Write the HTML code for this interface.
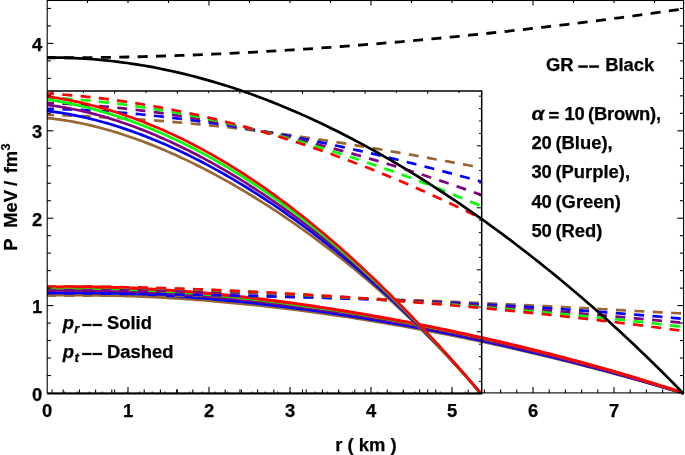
<!DOCTYPE html>
<html><head><meta charset="utf-8"><style>
html,body{margin:0;padding:0;background:#fff;}
body{width:685px;height:455px;overflow:hidden;position:relative;font-family:"Liberation Sans",sans-serif;font-weight:bold;}
svg{position:absolute;left:0;top:0;will-change:transform;}
.t{font-family:"Liberation Sans",sans-serif;font-weight:bold;fill:#000;stroke:#000;stroke-width:0.25px;}
</style></head><body>
<svg width="685" height="455" viewBox="0 0 685 455">
<rect width="685" height="455" fill="#fff"/>
<g stroke-linecap="butt" stroke-linejoin="round">
<path d="M47.00,295.36 L52.35,295.28 L57.70,295.22 L63.05,295.18 L68.40,295.16 L73.75,295.15 L79.10,295.16 L84.45,295.19 L89.80,295.24 L95.15,295.31 L100.50,295.39 L105.85,295.50 L111.19,295.62 L116.54,295.76 L121.89,295.91 L127.24,296.08 L132.59,296.27 L137.94,296.48 L143.29,296.71 L148.64,296.95 L153.99,297.21 L159.34,297.48 L164.69,297.77 L170.04,298.08 L175.39,298.41 L180.74,298.75 L186.09,299.11 L191.44,299.48 L196.79,299.87 L202.14,300.27 L207.49,300.70 L212.84,301.13 L218.19,301.59 L223.54,302.05 L228.89,302.54 L234.24,303.04 L239.58,303.55 L244.93,304.08 L250.28,304.63 L255.63,305.19 L260.98,305.76 L266.33,306.35 L271.68,306.96 L277.03,307.58 L282.38,308.21 L287.73,308.86 L293.08,309.53 L298.43,310.21 L303.78,310.90 L309.13,311.60 L314.48,312.33 L319.83,313.06 L325.18,313.81 L330.53,314.57 L335.88,315.35 L341.23,316.14 L346.58,316.95 L351.93,317.77 L357.28,318.60 L362.63,319.44 L367.97,320.30 L373.32,321.18 L378.67,322.06 L384.02,322.96 L389.37,323.88 L394.72,324.80 L400.07,325.74 L405.42,326.70 L410.77,327.66 L416.12,328.64 L421.47,329.63 L426.82,330.64 L432.17,331.66 L437.52,332.69 L442.87,333.73 L448.22,334.79 L453.57,335.86 L458.92,336.94 L464.27,338.03 L469.62,339.14 L474.97,340.26 L480.32,341.39 L485.67,342.53 L491.02,343.69 L496.36,344.86 L501.71,346.04 L507.06,347.24 L512.41,348.44 L517.76,349.66 L523.11,350.89 L528.46,352.13 L533.81,353.39 L539.16,354.65 L544.51,355.93 L549.86,357.23 L555.21,358.53 L560.56,359.84 L565.91,361.17 L571.26,362.51 L576.61,363.86 L581.96,365.22 L587.31,366.60 L592.66,367.99 L598.01,369.38 L603.36,370.79 L608.71,372.22 L614.06,373.65 L619.41,375.10 L624.75,376.56 L630.10,378.02 L635.45,379.51 L640.80,381.00 L646.15,382.50 L651.50,384.02 L656.85,385.55 L662.20,387.09 L667.55,388.64 L672.90,390.20 L678.25,391.78 L683.60,393.37" stroke="#996633" stroke-width="2.7" fill="none"/>
<path d="M47.00,292.99 L52.35,292.91 L57.70,292.85 L63.05,292.80 L68.40,292.78 L73.75,292.78 L79.10,292.80 L84.45,292.83 L89.80,292.89 L95.15,292.96 L100.50,293.06 L105.85,293.17 L111.19,293.30 L116.54,293.45 L121.89,293.62 L127.24,293.80 L132.59,294.00 L137.94,294.23 L143.29,294.46 L148.64,294.72 L153.99,295.00 L159.34,295.29 L164.69,295.60 L170.04,295.92 L175.39,296.26 L180.74,296.62 L186.09,297.00 L191.44,297.39 L196.79,297.80 L202.14,298.23 L207.49,298.67 L212.84,299.12 L218.19,299.60 L223.54,300.09 L228.89,300.59 L234.24,301.11 L239.58,301.65 L244.93,302.20 L250.28,302.77 L255.63,303.35 L260.98,303.94 L266.33,304.56 L271.68,305.18 L277.03,305.82 L282.38,306.48 L287.73,307.15 L293.08,307.84 L298.43,308.54 L303.78,309.25 L309.13,309.98 L314.48,310.72 L319.83,311.48 L325.18,312.25 L330.53,313.03 L335.88,313.83 L341.23,314.64 L346.58,315.47 L351.93,316.31 L357.28,317.16 L362.63,318.03 L367.97,318.91 L373.32,319.80 L378.67,320.71 L384.02,321.63 L389.37,322.56 L394.72,323.51 L400.07,324.47 L405.42,325.44 L410.77,326.43 L416.12,327.43 L421.47,328.44 L426.82,329.47 L432.17,330.50 L437.52,331.55 L442.87,332.62 L448.22,333.69 L453.57,334.78 L458.92,335.88 L464.27,337.00 L469.62,338.12 L474.97,339.26 L480.32,340.41 L485.67,341.58 L491.02,342.76 L496.36,343.94 L501.71,345.15 L507.06,346.36 L512.41,347.59 L517.76,348.83 L523.11,350.08 L528.46,351.34 L533.81,352.62 L539.16,353.91 L544.51,355.21 L549.86,356.52 L555.21,357.85 L560.56,359.19 L565.91,360.54 L571.26,361.90 L576.61,363.28 L581.96,364.67 L587.31,366.07 L592.66,367.48 L598.01,368.91 L603.36,370.34 L608.71,371.80 L614.06,373.26 L619.41,374.73 L624.75,376.22 L630.10,377.72 L635.45,379.24 L640.80,380.76 L646.15,382.30 L651.50,383.86 L656.85,385.42 L662.20,387.00 L667.55,388.59 L672.90,390.19 L678.25,391.81 L683.60,393.44" stroke="#0000ff" stroke-width="2.7" fill="none"/>
<path d="M47.00,290.60 L52.35,290.52 L57.70,290.47 L63.05,290.43 L68.40,290.42 L73.75,290.42 L79.10,290.45 L84.45,290.49 L89.80,290.56 L95.15,290.64 L100.50,290.74 L105.85,290.86 L111.19,291.00 L116.54,291.16 L121.89,291.34 L127.24,291.53 L132.59,291.75 L137.94,291.98 L143.29,292.23 L148.64,292.49 L153.99,292.78 L159.34,293.08 L164.69,293.40 L170.04,293.74 L175.39,294.09 L180.74,294.46 L186.09,294.84 L191.44,295.25 L196.79,295.67 L202.14,296.10 L207.49,296.56 L212.84,297.02 L218.19,297.51 L223.54,298.01 L228.89,298.52 L234.24,299.06 L239.58,299.60 L244.93,300.16 L250.28,300.74 L255.63,301.34 L260.98,301.94 L266.33,302.57 L271.68,303.20 L277.03,303.86 L282.38,304.53 L287.73,305.21 L293.08,305.90 L298.43,306.62 L303.78,307.34 L309.13,308.08 L314.48,308.84 L319.83,309.61 L325.18,310.39 L330.53,311.19 L335.88,312.00 L341.23,312.82 L346.58,313.66 L351.93,314.51 L357.28,315.38 L362.63,316.26 L367.97,317.15 L373.32,318.06 L378.67,318.98 L384.02,319.92 L389.37,320.86 L394.72,321.82 L400.07,322.80 L405.42,323.79 L410.77,324.79 L416.12,325.80 L421.47,326.83 L426.82,327.87 L432.17,328.93 L437.52,329.99 L442.87,331.07 L448.22,332.17 L453.57,333.27 L458.92,334.39 L464.27,335.52 L469.62,336.67 L474.97,337.83 L480.32,339.00 L485.67,340.19 L491.02,341.38 L496.36,342.59 L501.71,343.82 L507.06,345.06 L512.41,346.31 L517.76,347.57 L523.11,348.84 L528.46,350.13 L533.81,351.44 L539.16,352.75 L544.51,354.08 L549.86,355.42 L555.21,356.78 L560.56,358.14 L565.91,359.52 L571.26,360.92 L576.61,362.33 L581.96,363.75 L587.31,365.18 L592.66,366.63 L598.01,368.09 L603.36,369.57 L608.71,371.05 L614.06,372.56 L619.41,374.07 L624.75,375.60 L630.10,377.14 L635.45,378.70 L640.80,380.27 L646.15,381.86 L651.50,383.45 L656.85,385.07 L662.20,386.69 L667.55,388.33 L672.90,389.99 L678.25,391.66 L683.60,393.34" stroke="#800080" stroke-width="2.7" fill="none"/>
<path d="M47.00,288.30 L52.35,288.22 L57.70,288.15 L63.05,288.11 L68.40,288.09 L73.75,288.10 L79.10,288.12 L84.45,288.17 L89.80,288.24 L95.15,288.33 L100.50,288.44 L105.85,288.57 L111.19,288.72 L116.54,288.90 L121.89,289.09 L127.24,289.30 L132.59,289.53 L137.94,289.78 L143.29,290.04 L148.64,290.33 L153.99,290.64 L159.34,290.96 L164.69,291.30 L170.04,291.66 L175.39,292.03 L180.74,292.42 L186.09,292.83 L191.44,293.26 L196.79,293.70 L202.14,294.16 L207.49,294.64 L212.84,295.13 L218.19,295.64 L223.54,296.16 L228.89,296.70 L234.24,297.25 L239.58,297.82 L244.93,298.41 L250.28,299.01 L255.63,299.62 L260.98,300.25 L266.33,300.90 L271.68,301.55 L277.03,302.23 L282.38,302.91 L287.73,303.61 L293.08,304.33 L298.43,305.06 L303.78,305.80 L309.13,306.55 L314.48,307.32 L319.83,308.11 L325.18,308.90 L330.53,309.71 L335.88,310.54 L341.23,311.37 L346.58,312.22 L351.93,313.08 L357.28,313.96 L362.63,314.85 L367.97,315.75 L373.32,316.67 L378.67,317.59 L384.02,318.53 L389.37,319.49 L394.72,320.45 L400.07,321.43 L405.42,322.42 L410.77,323.43 L416.12,324.45 L421.47,325.48 L426.82,326.52 L432.17,327.58 L437.52,328.65 L442.87,329.73 L448.22,330.82 L453.57,331.93 L458.92,333.05 L464.27,334.19 L469.62,335.33 L474.97,336.50 L480.32,337.67 L485.67,338.86 L491.02,340.06 L496.36,341.27 L501.71,342.50 L507.06,343.74 L512.41,345.00 L517.76,346.26 L523.11,347.55 L528.46,348.84 L533.81,350.15 L539.16,351.48 L544.51,352.82 L549.86,354.17 L555.21,355.54 L560.56,356.93 L565.91,358.32 L571.26,359.74 L576.61,361.17 L581.96,362.61 L587.31,364.07 L592.66,365.54 L598.01,367.03 L603.36,368.54 L608.71,370.06 L614.06,371.60 L619.41,373.16 L624.75,374.73 L630.10,376.32 L635.45,377.93 L640.80,379.55 L646.15,381.19 L651.50,382.85 L656.85,384.53 L662.20,386.22 L667.55,387.94 L672.90,389.67 L678.25,391.42 L683.60,393.19" stroke="#00ff00" stroke-width="2.7" fill="none"/>
<path d="M47.00,287.11 L52.35,287.01 L57.70,286.93 L63.05,286.87 L68.40,286.84 L73.75,286.82 L79.10,286.84 L84.45,286.87 L89.80,286.93 L95.15,287.01 L100.50,287.11 L105.85,287.24 L111.19,287.38 L116.54,287.55 L121.89,287.74 L127.24,287.95 L132.59,288.17 L137.94,288.42 L143.29,288.69 L148.64,288.98 L153.99,289.28 L159.34,289.61 L164.69,289.95 L170.04,290.32 L175.39,290.70 L180.74,291.10 L186.09,291.51 L191.44,291.95 L196.79,292.40 L202.14,292.87 L207.49,293.35 L212.84,293.86 L218.19,294.38 L223.54,294.91 L228.89,295.46 L234.24,296.03 L239.58,296.62 L244.93,297.21 L250.28,297.83 L255.63,298.46 L260.98,299.10 L266.33,299.77 L271.68,300.44 L277.03,301.13 L282.38,301.84 L287.73,302.55 L293.08,303.29 L298.43,304.04 L303.78,304.80 L309.13,305.57 L314.48,306.36 L319.83,307.17 L325.18,307.98 L330.53,308.81 L335.88,309.66 L341.23,310.52 L346.58,311.39 L351.93,312.27 L357.28,313.17 L362.63,314.08 L367.97,315.00 L373.32,315.94 L378.67,316.89 L384.02,317.85 L389.37,318.83 L394.72,319.81 L400.07,320.81 L405.42,321.83 L410.77,322.85 L416.12,323.89 L421.47,324.94 L426.82,326.01 L432.17,327.09 L437.52,328.18 L442.87,329.28 L448.22,330.39 L453.57,331.52 L458.92,332.66 L464.27,333.82 L469.62,334.98 L474.97,336.16 L480.32,337.35 L485.67,338.56 L491.02,339.78 L496.36,341.01 L501.71,342.25 L507.06,343.51 L512.41,344.78 L517.76,346.06 L523.11,347.36 L528.46,348.67 L533.81,349.99 L539.16,351.33 L544.51,352.68 L549.86,354.04 L555.21,355.42 L560.56,356.82 L565.91,358.22 L571.26,359.64 L576.61,361.08 L581.96,362.53 L587.31,363.99 L592.66,365.47 L598.01,366.97 L603.36,368.48 L608.71,370.00 L614.06,371.54 L619.41,373.10 L624.75,374.67 L630.10,376.26 L635.45,377.86 L640.80,379.48 L646.15,381.11 L651.50,382.77 L656.85,384.44 L662.20,386.12 L667.55,387.83 L672.90,389.55 L678.25,391.29 L683.60,393.04" stroke="#ff0000" stroke-width="3.1" fill="none"/>
<path d="M47.00,295.50 L52.35,295.52 L57.70,295.54 L63.05,295.56 L68.40,295.58 L73.75,295.59 L79.10,295.60 L84.45,295.62 L89.80,295.63 L95.15,295.64 L100.50,295.65 L105.85,295.66 L111.19,295.67 L116.54,295.68 L121.89,295.69 L127.24,295.71 L132.59,295.72 L137.94,295.73 L143.29,295.75 L148.64,295.76 L153.99,295.78 L159.34,295.80 L164.69,295.82 L170.04,295.84 L175.39,295.86 L180.74,295.89 L186.09,295.91 L191.44,295.94 L196.79,295.98 L202.14,296.01 L207.49,296.05 L212.84,296.09 L218.19,296.13 L223.54,296.18 L228.89,296.23 L234.24,296.28 L239.58,296.34 L244.93,296.40 L250.28,296.46 L255.63,296.53 L260.98,296.60 L266.33,296.67 L271.68,296.75 L277.03,296.83 L282.38,296.91 L287.73,297.00 L293.08,297.10 L298.43,297.19 L303.78,297.29 L309.13,297.40 L314.48,297.51 L319.83,297.62 L325.18,297.74 L330.53,297.86 L335.88,297.99 L341.23,298.12 L346.58,298.26 L351.93,298.40 L357.28,298.54 L362.63,298.69 L367.97,298.84 L373.32,299.00 L378.67,299.16 L384.02,299.32 L389.37,299.49 L394.72,299.67 L400.07,299.85 L405.42,300.03 L410.77,300.22 L416.12,300.41 L421.47,300.61 L426.82,300.81 L432.17,301.01 L437.52,301.22 L442.87,301.43 L448.22,301.65 L453.57,301.87 L458.92,302.09 L464.27,302.32 L469.62,302.55 L474.97,302.78 L480.32,303.02 L485.67,303.26 L491.02,303.51 L496.36,303.76 L501.71,304.01 L507.06,304.26 L512.41,304.52 L517.76,304.78 L523.11,305.04 L528.46,305.31 L533.81,305.58 L539.16,305.85 L544.51,306.12 L549.86,306.40 L555.21,306.67 L560.56,306.95 L565.91,307.24 L571.26,307.52 L576.61,307.80 L581.96,308.09 L587.31,308.37 L592.66,308.66 L598.01,308.95 L603.36,309.24 L608.71,309.53 L614.06,309.82 L619.41,310.11 L624.75,310.40 L630.10,310.69 L635.45,310.98 L640.80,311.27 L646.15,311.56 L651.50,311.85 L656.85,312.13 L662.20,312.42 L667.55,312.70 L672.90,312.98 L678.25,313.26 L683.60,313.54" stroke="#996633" stroke-width="2.7" fill="none" stroke-dasharray="10 8.4" stroke-dashoffset="1.16"/>
<path d="M47.00,293.17 L52.35,293.20 L57.70,293.24 L63.05,293.28 L68.40,293.32 L73.75,293.37 L79.10,293.41 L84.45,293.46 L89.80,293.50 L95.15,293.55 L100.50,293.60 L105.85,293.66 L111.19,293.71 L116.54,293.77 L121.89,293.83 L127.24,293.89 L132.59,293.95 L137.94,294.01 L143.29,294.08 L148.64,294.15 L153.99,294.22 L159.34,294.29 L164.69,294.36 L170.04,294.44 L175.39,294.52 L180.74,294.60 L186.09,294.69 L191.44,294.77 L196.79,294.86 L202.14,294.95 L207.49,295.05 L212.84,295.15 L218.19,295.25 L223.54,295.35 L228.89,295.45 L234.24,295.56 L239.58,295.67 L244.93,295.79 L250.28,295.90 L255.63,296.02 L260.98,296.15 L266.33,296.27 L271.68,296.40 L277.03,296.53 L282.38,296.67 L287.73,296.81 L293.08,296.95 L298.43,297.10 L303.78,297.24 L309.13,297.40 L314.48,297.55 L319.83,297.71 L325.18,297.87 L330.53,298.04 L335.88,298.21 L341.23,298.38 L346.58,298.56 L351.93,298.74 L357.28,298.93 L362.63,299.11 L367.97,299.31 L373.32,299.50 L378.67,299.70 L384.02,299.91 L389.37,300.12 L394.72,300.33 L400.07,300.54 L405.42,300.76 L410.77,300.99 L416.12,301.22 L421.47,301.45 L426.82,301.69 L432.17,301.93 L437.52,302.18 L442.87,302.43 L448.22,302.68 L453.57,302.94 L458.92,303.20 L464.27,303.47 L469.62,303.75 L474.97,304.02 L480.32,304.31 L485.67,304.59 L491.02,304.88 L496.36,305.18 L501.71,305.48 L507.06,305.79 L512.41,306.10 L517.76,306.41 L523.11,306.74 L528.46,307.06 L533.81,307.39 L539.16,307.73 L544.51,308.07 L549.86,308.42 L555.21,308.77 L560.56,309.12 L565.91,309.49 L571.26,309.85 L576.61,310.22 L581.96,310.60 L587.31,310.99 L592.66,311.37 L598.01,311.77 L603.36,312.17 L608.71,312.57 L614.06,312.98 L619.41,313.40 L624.75,313.82 L630.10,314.25 L635.45,314.68 L640.80,315.12 L646.15,315.56 L651.50,316.01 L656.85,316.47 L662.20,316.93 L667.55,317.40 L672.90,317.87 L678.25,318.35 L683.60,318.84" stroke="#0000ff" stroke-width="2.7" fill="none" stroke-dasharray="10 8.4" stroke-dashoffset="1.16"/>
<path d="M47.00,290.70 L52.35,290.62 L57.70,290.54 L63.05,290.47 L68.40,290.42 L73.75,290.37 L79.10,290.33 L84.45,290.30 L89.80,290.28 L95.15,290.27 L100.50,290.26 L105.85,290.27 L111.19,290.28 L116.54,290.31 L121.89,290.34 L127.24,290.37 L132.59,290.42 L137.94,290.47 L143.29,290.53 L148.64,290.60 L153.99,290.68 L159.34,290.76 L164.69,290.85 L170.04,290.95 L175.39,291.05 L180.74,291.16 L186.09,291.28 L191.44,291.40 L196.79,291.54 L202.14,291.67 L207.49,291.82 L212.84,291.96 L218.19,292.12 L223.54,292.28 L228.89,292.45 L234.24,292.62 L239.58,292.80 L244.93,292.98 L250.28,293.17 L255.63,293.37 L260.98,293.57 L266.33,293.78 L271.68,293.99 L277.03,294.20 L282.38,294.42 L287.73,294.65 L293.08,294.88 L298.43,295.12 L303.78,295.36 L309.13,295.60 L314.48,295.85 L319.83,296.11 L325.18,296.37 L330.53,296.63 L335.88,296.90 L341.23,297.17 L346.58,297.45 L351.93,297.73 L357.28,298.02 L362.63,298.31 L367.97,298.60 L373.32,298.90 L378.67,299.20 L384.02,299.51 L389.37,299.82 L394.72,300.13 L400.07,300.45 L405.42,300.77 L410.77,301.10 L416.12,301.43 L421.47,301.76 L426.82,302.10 L432.17,302.44 L437.52,302.79 L442.87,303.14 L448.22,303.49 L453.57,303.85 L458.92,304.21 L464.27,304.57 L469.62,304.94 L474.97,305.31 L480.32,305.69 L485.67,306.07 L491.02,306.45 L496.36,306.84 L501.71,307.23 L507.06,307.62 L512.41,308.02 L517.76,308.42 L523.11,308.83 L528.46,309.24 L533.81,309.65 L539.16,310.07 L544.51,310.49 L549.86,310.92 L555.21,311.35 L560.56,311.78 L565.91,312.22 L571.26,312.67 L576.61,313.11 L581.96,313.56 L587.31,314.02 L592.66,314.48 L598.01,314.94 L603.36,315.41 L608.71,315.88 L614.06,316.36 L619.41,316.84 L624.75,317.32 L630.10,317.81 L635.45,318.31 L640.80,318.81 L646.15,319.31 L651.50,319.82 L656.85,320.34 L662.20,320.86 L667.55,321.38 L672.90,321.91 L678.25,322.45 L683.60,322.99" stroke="#800080" stroke-width="2.7" fill="none" stroke-dasharray="10 8.4" stroke-dashoffset="1.16"/>
<path d="M47.00,286.92 L52.35,286.88 L57.70,286.84 L63.05,286.82 L68.40,286.80 L73.75,286.81 L79.10,286.82 L84.45,286.84 L89.80,286.88 L95.15,286.92 L100.50,286.98 L105.85,287.05 L111.19,287.12 L116.54,287.21 L121.89,287.31 L127.24,287.41 L132.59,287.53 L137.94,287.65 L143.29,287.79 L148.64,287.93 L153.99,288.08 L159.34,288.23 L164.69,288.40 L170.04,288.57 L175.39,288.75 L180.74,288.94 L186.09,289.13 L191.44,289.34 L196.79,289.54 L202.14,289.76 L207.49,289.98 L212.84,290.21 L218.19,290.44 L223.54,290.68 L228.89,290.92 L234.24,291.17 L239.58,291.43 L244.93,291.69 L250.28,291.95 L255.63,292.22 L260.98,292.50 L266.33,292.78 L271.68,293.06 L277.03,293.35 L282.38,293.64 L287.73,293.94 L293.08,294.24 L298.43,294.55 L303.78,294.86 L309.13,295.17 L314.48,295.49 L319.83,295.81 L325.18,296.13 L330.53,296.46 L335.88,296.79 L341.23,297.13 L346.58,297.47 L351.93,297.81 L357.28,298.16 L362.63,298.51 L367.97,298.86 L373.32,299.21 L378.67,299.57 L384.02,299.93 L389.37,300.30 L394.72,300.67 L400.07,301.04 L405.42,301.41 L410.77,301.79 L416.12,302.17 L421.47,302.56 L426.82,302.95 L432.17,303.34 L437.52,303.73 L442.87,304.13 L448.22,304.53 L453.57,304.94 L458.92,305.35 L464.27,305.76 L469.62,306.17 L474.97,306.59 L480.32,307.01 L485.67,307.44 L491.02,307.87 L496.36,308.31 L501.71,308.74 L507.06,309.19 L512.41,309.63 L517.76,310.08 L523.11,310.54 L528.46,311.00 L533.81,311.47 L539.16,311.93 L544.51,312.41 L549.86,312.89 L555.21,313.37 L560.56,313.86 L565.91,314.36 L571.26,314.86 L576.61,315.37 L581.96,315.88 L587.31,316.40 L592.66,316.92 L598.01,317.45 L603.36,317.99 L608.71,318.54 L614.06,319.09 L619.41,319.65 L624.75,320.21 L630.10,320.79 L635.45,321.37 L640.80,321.96 L646.15,322.55 L651.50,323.16 L656.85,323.77 L662.20,324.40 L667.55,325.03 L672.90,325.67 L678.25,326.32 L683.60,326.98" stroke="#00ff00" stroke-width="2.7" fill="none" stroke-dasharray="10 8.4" stroke-dashoffset="1.16"/>
<path d="M47.00,286.51 L52.35,286.50 L57.70,286.50 L63.05,286.50 L68.40,286.52 L73.75,286.54 L79.10,286.58 L84.45,286.62 L89.80,286.67 L95.15,286.72 L100.50,286.79 L105.85,286.86 L111.19,286.95 L116.54,287.03 L121.89,287.13 L127.24,287.24 L132.59,287.35 L137.94,287.47 L143.29,287.59 L148.64,287.73 L153.99,287.87 L159.34,288.02 L164.69,288.17 L170.04,288.34 L175.39,288.50 L180.74,288.68 L186.09,288.86 L191.44,289.05 L196.79,289.25 L202.14,289.45 L207.49,289.66 L212.84,289.88 L218.19,290.10 L223.54,290.32 L228.89,290.56 L234.24,290.80 L239.58,291.05 L244.93,291.30 L250.28,291.56 L255.63,291.82 L260.98,292.09 L266.33,292.37 L271.68,292.65 L277.03,292.94 L282.38,293.23 L287.73,293.53 L293.08,293.84 L298.43,294.15 L303.78,294.46 L309.13,294.78 L314.48,295.11 L319.83,295.44 L325.18,295.78 L330.53,296.13 L335.88,296.48 L341.23,296.83 L346.58,297.19 L351.93,297.56 L357.28,297.93 L362.63,298.30 L367.97,298.68 L373.32,299.07 L378.67,299.46 L384.02,299.86 L389.37,300.26 L394.72,300.67 L400.07,301.08 L405.42,301.50 L410.77,301.92 L416.12,302.35 L421.47,302.79 L426.82,303.23 L432.17,303.67 L437.52,304.12 L442.87,304.58 L448.22,305.04 L453.57,305.50 L458.92,305.97 L464.27,306.45 L469.62,306.93 L474.97,307.42 L480.32,307.91 L485.67,308.41 L491.02,308.91 L496.36,309.42 L501.71,309.94 L507.06,310.46 L512.41,310.98 L517.76,311.51 L523.11,312.05 L528.46,312.59 L533.81,313.14 L539.16,313.69 L544.51,314.25 L549.86,314.82 L555.21,315.39 L560.56,315.97 L565.91,316.55 L571.26,317.14 L576.61,317.73 L581.96,318.34 L587.31,318.94 L592.66,319.56 L598.01,320.18 L603.36,320.80 L608.71,321.43 L614.06,322.07 L619.41,322.72 L624.75,323.37 L630.10,324.03 L635.45,324.69 L640.80,325.37 L646.15,326.05 L651.50,326.73 L656.85,327.42 L662.20,328.12 L667.55,328.83 L672.90,329.54 L678.25,330.27 L683.60,330.99" stroke="#ff0000" stroke-width="2.7" fill="none" stroke-dasharray="10 8.4" stroke-dashoffset="1.16"/>
<path d="M47.00,114.87 L50.65,114.98 L54.31,115.10 L57.96,115.22 L61.61,115.35 L65.26,115.48 L68.92,115.62 L72.57,115.76 L76.22,115.91 L79.88,116.06 L83.53,116.22 L87.18,116.38 L90.84,116.55 L94.49,116.72 L98.14,116.90 L101.79,117.09 L105.45,117.28 L109.10,117.48 L112.75,117.68 L116.41,117.89 L120.06,118.11 L123.71,118.33 L127.36,118.56 L131.02,118.79 L134.67,119.03 L138.32,119.27 L141.98,119.53 L145.63,119.79 L149.28,120.05 L152.94,120.32 L156.59,120.60 L160.24,120.88 L163.89,121.17 L167.55,121.47 L171.20,121.77 L174.85,122.08 L178.51,122.40 L182.16,122.72 L185.81,123.05 L189.46,123.39 L193.12,123.73 L196.77,124.08 L200.42,124.44 L204.08,124.80 L207.73,125.17 L211.38,125.54 L215.04,125.93 L218.69,126.32 L222.34,126.71 L225.99,127.11 L229.65,127.52 L233.30,127.93 L236.95,128.36 L240.61,128.78 L244.26,129.22 L247.91,129.66 L251.56,130.10 L255.22,130.56 L258.87,131.01 L262.52,131.48 L266.18,131.95 L269.83,132.43 L273.48,132.91 L277.14,133.40 L280.79,133.90 L284.44,134.40 L288.09,134.90 L291.75,135.42 L295.40,135.93 L299.05,136.46 L302.71,136.99 L306.36,137.52 L310.01,138.06 L313.66,138.61 L317.32,139.16 L320.97,139.72 L324.62,140.28 L328.28,140.85 L331.93,141.42 L335.58,141.99 L339.24,142.58 L342.89,143.16 L346.54,143.75 L350.19,144.35 L353.85,144.95 L357.50,145.55 L361.15,146.16 L364.81,146.77 L368.46,147.39 L372.11,148.01 L375.76,148.63 L379.42,149.26 L383.07,149.89 L386.72,150.52 L390.38,151.16 L394.03,151.80 L397.68,152.44 L401.34,153.09 L404.99,153.74 L408.64,154.39 L412.29,155.04 L415.95,155.70 L419.60,156.36 L423.25,157.02 L426.91,157.68 L430.56,158.34 L434.21,159.01 L437.86,159.67 L441.52,160.34 L445.17,161.01 L448.82,161.68 L452.48,162.35 L456.13,163.02 L459.78,163.70 L463.44,164.37 L467.09,165.04 L470.74,165.71 L474.39,166.38 L478.05,167.05 L481.70,167.72" stroke="#996633" stroke-width="2.7" fill="none" stroke-dasharray="10 8.37" stroke-dashoffset="3.04"/>
<path d="M47.00,108.78 L50.65,108.86 L54.31,108.95 L57.96,109.06 L61.61,109.17 L65.26,109.30 L68.92,109.44 L72.57,109.59 L76.22,109.75 L79.88,109.92 L83.53,110.10 L87.18,110.30 L90.84,110.51 L94.49,110.72 L98.14,110.95 L101.79,111.19 L105.45,111.44 L109.10,111.70 L112.75,111.97 L116.41,112.25 L120.06,112.54 L123.71,112.84 L127.36,113.15 L131.02,113.48 L134.67,113.81 L138.32,114.15 L141.98,114.50 L145.63,114.86 L149.28,115.24 L152.94,115.62 L156.59,116.01 L160.24,116.41 L163.89,116.82 L167.55,117.24 L171.20,117.67 L174.85,118.10 L178.51,118.55 L182.16,119.01 L185.81,119.47 L189.46,119.94 L193.12,120.43 L196.77,120.92 L200.42,121.42 L204.08,121.93 L207.73,122.44 L211.38,122.97 L215.04,123.50 L218.69,124.05 L222.34,124.60 L225.99,125.16 L229.65,125.72 L233.30,126.30 L236.95,126.88 L240.61,127.48 L244.26,128.08 L247.91,128.68 L251.56,129.30 L255.22,129.92 L258.87,130.55 L262.52,131.19 L266.18,131.84 L269.83,132.49 L273.48,133.15 L277.14,133.82 L280.79,134.50 L284.44,135.18 L288.09,135.87 L291.75,136.57 L295.40,137.28 L299.05,137.99 L302.71,138.71 L306.36,139.43 L310.01,140.17 L313.66,140.91 L317.32,141.66 L320.97,142.41 L324.62,143.17 L328.28,143.94 L331.93,144.71 L335.58,145.49 L339.24,146.28 L342.89,147.08 L346.54,147.88 L350.19,148.69 L353.85,149.50 L357.50,150.32 L361.15,151.15 L364.81,151.98 L368.46,152.82 L372.11,153.67 L375.76,154.52 L379.42,155.38 L383.07,156.24 L386.72,157.11 L390.38,157.99 L394.03,158.87 L397.68,159.76 L401.34,160.66 L404.99,161.56 L408.64,162.46 L412.29,163.38 L415.95,164.29 L419.60,165.22 L423.25,166.15 L426.91,167.09 L430.56,168.03 L434.21,168.98 L437.86,169.93 L441.52,170.89 L445.17,171.85 L448.82,172.83 L452.48,173.80 L456.13,174.78 L459.78,175.77 L463.44,176.76 L467.09,177.76 L470.74,178.77 L474.39,179.78 L478.05,180.79 L481.70,181.82" stroke="#0000ff" stroke-width="2.7" fill="none" stroke-dasharray="10 8.37" stroke-dashoffset="3.04"/>
<path d="M47.00,102.93 L50.65,103.06 L54.31,103.21 L57.96,103.37 L61.61,103.54 L65.26,103.73 L68.92,103.93 L72.57,104.14 L76.22,104.37 L79.88,104.60 L83.53,104.86 L87.18,105.12 L90.84,105.40 L94.49,105.69 L98.14,105.99 L101.79,106.30 L105.45,106.63 L109.10,106.97 L112.75,107.32 L116.41,107.69 L120.06,108.06 L123.71,108.45 L127.36,108.85 L131.02,109.26 L134.67,109.68 L138.32,110.12 L141.98,110.56 L145.63,111.02 L149.28,111.49 L152.94,111.97 L156.59,112.46 L160.24,112.96 L163.89,113.48 L167.55,114.00 L171.20,114.54 L174.85,115.09 L178.51,115.64 L182.16,116.21 L185.81,116.79 L189.46,117.38 L193.12,117.98 L196.77,118.59 L200.42,119.22 L204.08,119.85 L207.73,120.49 L211.38,121.14 L215.04,121.81 L218.69,122.48 L222.34,123.16 L225.99,123.85 L229.65,124.56 L233.30,125.27 L236.95,125.99 L240.61,126.73 L244.26,127.47 L247.91,128.22 L251.56,128.99 L255.22,129.76 L258.87,130.54 L262.52,131.33 L266.18,132.13 L269.83,132.94 L273.48,133.76 L277.14,134.59 L280.79,135.43 L284.44,136.28 L288.09,137.13 L291.75,138.00 L295.40,138.88 L299.05,139.76 L302.71,140.65 L306.36,141.56 L310.01,142.47 L313.66,143.39 L317.32,144.32 L320.97,145.26 L324.62,146.21 L328.28,147.16 L331.93,148.13 L335.58,149.10 L339.24,150.09 L342.89,151.08 L346.54,152.08 L350.19,153.09 L353.85,154.11 L357.50,155.13 L361.15,156.17 L364.81,157.21 L368.46,158.27 L372.11,159.33 L375.76,160.40 L379.42,161.47 L383.07,162.56 L386.72,163.66 L390.38,164.76 L394.03,165.87 L397.68,166.99 L401.34,168.12 L404.99,169.26 L408.64,170.41 L412.29,171.56 L415.95,172.73 L419.60,173.90 L423.25,175.08 L426.91,176.27 L430.56,177.46 L434.21,178.67 L437.86,179.88 L441.52,181.10 L445.17,182.33 L448.82,183.57 L452.48,184.82 L456.13,186.08 L459.78,187.34 L463.44,188.61 L467.09,189.89 L470.74,191.18 L474.39,192.48 L478.05,193.78 L481.70,195.10" stroke="#800080" stroke-width="2.7" fill="none" stroke-dasharray="10 8.37" stroke-dashoffset="3.04"/>
<path d="M47.00,97.54 L50.65,97.73 L54.31,97.93 L57.96,98.14 L61.61,98.38 L65.26,98.62 L68.92,98.88 L72.57,99.16 L76.22,99.45 L79.88,99.76 L83.53,100.08 L87.18,100.41 L90.84,100.76 L94.49,101.13 L98.14,101.50 L101.79,101.90 L105.45,102.30 L109.10,102.72 L112.75,103.15 L116.41,103.60 L120.06,104.06 L123.71,104.53 L127.36,105.02 L131.02,105.52 L134.67,106.03 L138.32,106.55 L141.98,107.09 L145.63,107.64 L149.28,108.20 L152.94,108.78 L156.59,109.37 L160.24,109.97 L163.89,110.58 L167.55,111.21 L171.20,111.85 L174.85,112.50 L178.51,113.16 L182.16,113.83 L185.81,114.52 L189.46,115.22 L193.12,115.93 L196.77,116.65 L200.42,117.38 L204.08,118.12 L207.73,118.88 L211.38,119.65 L215.04,120.43 L218.69,121.22 L222.34,122.02 L225.99,122.83 L229.65,123.65 L233.30,124.49 L236.95,125.33 L240.61,126.19 L244.26,127.06 L247.91,127.94 L251.56,128.83 L255.22,129.73 L258.87,130.64 L262.52,131.56 L266.18,132.50 L269.83,133.44 L273.48,134.40 L277.14,135.36 L280.79,136.34 L284.44,137.32 L288.09,138.32 L291.75,139.33 L295.40,140.35 L299.05,141.38 L302.71,142.42 L306.36,143.47 L310.01,144.53 L313.66,145.60 L317.32,146.68 L320.97,147.78 L324.62,148.88 L328.28,149.99 L331.93,151.12 L335.58,152.25 L339.24,153.39 L342.89,154.55 L346.54,155.72 L350.19,156.89 L353.85,158.08 L357.50,159.28 L361.15,160.48 L364.81,161.70 L368.46,162.93 L372.11,164.17 L375.76,165.42 L379.42,166.68 L383.07,167.95 L386.72,169.23 L390.38,170.53 L394.03,171.83 L397.68,173.14 L401.34,174.47 L404.99,175.80 L408.64,177.15 L412.29,178.51 L415.95,179.88 L419.60,181.26 L423.25,182.65 L426.91,184.05 L430.56,185.46 L434.21,186.88 L437.86,188.32 L441.52,189.76 L445.17,191.22 L448.82,192.69 L452.48,194.17 L456.13,195.66 L459.78,197.16 L463.44,198.67 L467.09,200.20 L470.74,201.73 L474.39,203.28 L478.05,204.84 L481.70,206.42" stroke="#00ff00" stroke-width="2.7" fill="none" stroke-dasharray="10 8.37" stroke-dashoffset="3.04"/>
<path d="M47.00,93.50 L50.65,93.72 L54.31,93.96 L57.96,94.21 L61.61,94.48 L65.26,94.77 L68.92,95.07 L72.57,95.38 L76.22,95.71 L79.88,96.05 L83.53,96.41 L87.18,96.79 L90.84,97.18 L94.49,97.59 L98.14,98.01 L101.79,98.44 L105.45,98.89 L109.10,99.36 L112.75,99.84 L116.41,100.33 L120.06,100.84 L123.71,101.37 L127.36,101.91 L131.02,102.46 L134.67,103.03 L138.32,103.61 L141.98,104.21 L145.63,104.82 L149.28,105.45 L152.94,106.09 L156.59,106.74 L160.24,107.41 L163.89,108.09 L167.55,108.79 L171.20,109.50 L174.85,110.23 L178.51,110.97 L182.16,111.72 L185.81,112.49 L189.46,113.27 L193.12,114.07 L196.77,114.88 L200.42,115.70 L204.08,116.54 L207.73,117.39 L211.38,118.26 L215.04,119.14 L218.69,120.03 L222.34,120.94 L225.99,121.86 L229.65,122.79 L233.30,123.74 L236.95,124.70 L240.61,125.67 L244.26,126.66 L247.91,127.66 L251.56,128.68 L255.22,129.70 L258.87,130.75 L262.52,131.80 L266.18,132.87 L269.83,133.95 L273.48,135.05 L277.14,136.15 L280.79,137.27 L284.44,138.41 L288.09,139.56 L291.75,140.72 L295.40,141.89 L299.05,143.08 L302.71,144.28 L306.36,145.49 L310.01,146.72 L313.66,147.96 L317.32,149.21 L320.97,150.47 L324.62,151.75 L328.28,153.04 L331.93,154.35 L335.58,155.66 L339.24,156.99 L342.89,158.33 L346.54,159.69 L350.19,161.06 L353.85,162.44 L357.50,163.83 L361.15,165.24 L364.81,166.66 L368.46,168.09 L372.11,169.53 L375.76,170.99 L379.42,172.46 L383.07,173.94 L386.72,175.44 L390.38,176.94 L394.03,178.47 L397.68,180.00 L401.34,181.54 L404.99,183.10 L408.64,184.67 L412.29,186.26 L415.95,187.85 L419.60,189.46 L423.25,191.08 L426.91,192.72 L430.56,194.36 L434.21,196.02 L437.86,197.69 L441.52,199.37 L445.17,201.07 L448.82,202.78 L452.48,204.50 L456.13,206.23 L459.78,207.98 L463.44,209.74 L467.09,211.51 L470.74,213.29 L474.39,215.09 L478.05,216.90 L481.70,218.72" stroke="#ff0000" stroke-width="2.7" fill="none" stroke-dasharray="10 8.37" stroke-dashoffset="3.04"/>
<path d="M47.00,118.04 L50.64,118.42 L54.29,118.85 L57.93,119.32 L61.58,119.83 L65.22,120.39 L68.87,120.99 L72.51,121.63 L76.16,122.31 L79.80,123.03 L83.45,123.80 L87.09,124.60 L90.73,125.44 L94.38,126.32 L98.02,127.24 L101.67,128.20 L105.31,129.19 L108.96,130.22 L112.60,131.29 L116.25,132.39 L119.89,133.53 L123.54,134.71 L127.18,135.91 L130.82,137.16 L134.47,138.43 L138.11,139.74 L141.76,141.08 L145.40,142.46 L149.05,143.87 L152.69,145.31 L156.34,146.78 L159.98,148.28 L163.63,149.81 L167.27,151.38 L170.91,152.97 L174.56,154.59 L178.20,156.25 L181.85,157.93 L185.49,159.65 L189.14,161.39 L192.78,163.16 L196.43,164.96 L200.07,166.79 L203.72,168.64 L207.36,170.53 L211.00,172.44 L214.65,174.38 L218.29,176.35 L221.94,178.34 L225.58,180.36 L229.23,182.41 L232.87,184.49 L236.52,186.59 L240.16,188.72 L243.81,190.88 L247.45,193.06 L251.09,195.27 L254.74,197.51 L258.38,199.78 L262.03,202.07 L265.67,204.38 L269.32,206.72 L272.96,209.09 L276.61,211.49 L280.25,213.91 L283.89,216.36 L287.54,218.84 L291.18,221.34 L294.83,223.87 L298.47,226.43 L302.12,229.01 L305.76,231.62 L309.41,234.26 L313.05,236.92 L316.70,239.61 L320.34,242.33 L323.98,245.08 L327.63,247.85 L331.27,250.66 L334.92,253.49 L338.56,256.35 L342.21,259.23 L345.85,262.15 L349.50,265.10 L353.14,268.07 L356.79,271.08 L360.43,274.11 L364.07,277.17 L367.72,280.27 L371.36,283.39 L375.01,286.55 L378.65,289.74 L382.30,292.96 L385.94,296.21 L389.59,299.49 L393.23,302.80 L396.88,306.15 L400.52,309.53 L404.16,312.95 L407.81,316.40 L411.45,319.88 L415.10,323.40 L418.74,326.95 L422.39,330.54 L426.03,334.17 L429.68,337.83 L433.32,341.53 L436.97,345.26 L440.61,349.04 L444.25,352.85 L447.90,356.70 L451.54,360.60 L455.19,364.53 L458.83,368.50 L462.48,372.51 L466.12,376.57 L469.77,380.67 L473.41,384.81 L477.06,388.99 L480.70,393.22" stroke="#996633" stroke-width="2.7" fill="none"/>
<path d="M47.00,110.89 L50.64,111.33 L54.29,111.81 L57.93,112.33 L61.58,112.90 L65.22,113.50 L68.87,114.15 L72.51,114.83 L76.16,115.56 L79.80,116.32 L83.45,117.12 L87.09,117.96 L90.73,118.84 L94.38,119.75 L98.02,120.70 L101.67,121.69 L105.31,122.71 L108.96,123.77 L112.60,124.87 L116.25,126.00 L119.89,127.16 L123.54,128.36 L127.18,129.60 L130.82,130.86 L134.47,132.17 L138.11,133.50 L141.76,134.87 L145.40,136.27 L149.05,137.70 L152.69,139.17 L156.34,140.67 L159.98,142.20 L163.63,143.76 L167.27,145.35 L170.91,146.98 L174.56,148.63 L178.20,150.32 L181.85,152.04 L185.49,153.78 L189.14,155.56 L192.78,157.37 L196.43,159.21 L200.07,161.07 L203.72,162.97 L207.36,164.90 L211.00,166.85 L214.65,168.84 L218.29,170.85 L221.94,172.89 L225.58,174.96 L229.23,177.06 L232.87,179.19 L236.52,181.35 L240.16,183.54 L243.81,185.75 L247.45,187.99 L251.09,190.26 L254.74,192.56 L258.38,194.89 L262.03,197.25 L265.67,199.63 L269.32,202.04 L272.96,204.48 L276.61,206.95 L280.25,209.45 L283.89,211.97 L287.54,214.52 L291.18,217.10 L294.83,219.71 L298.47,222.35 L302.12,225.01 L305.76,227.71 L309.41,230.43 L313.05,233.18 L316.70,235.96 L320.34,238.77 L323.98,241.60 L327.63,244.47 L331.27,247.36 L334.92,250.29 L338.56,253.24 L342.21,256.22 L345.85,259.23 L349.50,262.27 L353.14,265.34 L356.79,268.44 L360.43,271.57 L364.07,274.73 L367.72,277.93 L371.36,281.15 L375.01,284.40 L378.65,287.68 L382.30,291.00 L385.94,294.34 L389.59,297.72 L393.23,301.13 L396.88,304.57 L400.52,308.05 L404.16,311.55 L407.81,315.09 L411.45,318.67 L415.10,322.27 L418.74,325.91 L422.39,329.59 L426.03,333.30 L429.68,337.04 L433.32,340.82 L436.97,344.63 L440.61,348.48 L444.25,352.36 L447.90,356.28 L451.54,360.24 L455.19,364.23 L458.83,368.27 L462.48,372.34 L466.12,376.44 L469.77,380.59 L473.41,384.77 L477.06,389.00 L480.70,393.26" stroke="#0000ff" stroke-width="2.7" fill="none"/>
<path d="M47.00,104.90 L50.64,105.36 L54.29,105.86 L57.93,106.41 L61.58,106.99 L65.22,107.62 L68.87,108.29 L72.51,109.00 L76.16,109.75 L79.80,110.53 L83.45,111.36 L87.09,112.23 L90.73,113.13 L94.38,114.08 L98.02,115.06 L101.67,116.07 L105.31,117.13 L108.96,118.22 L112.60,119.35 L116.25,120.51 L119.89,121.71 L123.54,122.94 L127.18,124.21 L130.82,125.51 L134.47,126.85 L138.11,128.22 L141.76,129.62 L145.40,131.06 L149.05,132.53 L152.69,134.04 L156.34,135.57 L159.98,137.14 L163.63,138.74 L167.27,140.38 L170.91,142.04 L174.56,143.74 L178.20,145.46 L181.85,147.22 L185.49,149.01 L189.14,150.83 L192.78,152.68 L196.43,154.56 L200.07,156.47 L203.72,158.41 L207.36,160.38 L211.00,162.38 L214.65,164.40 L218.29,166.46 L221.94,168.55 L225.58,170.67 L229.23,172.81 L232.87,174.98 L236.52,177.19 L240.16,179.42 L243.81,181.68 L247.45,183.97 L251.09,186.29 L254.74,188.63 L258.38,191.01 L262.03,193.41 L265.67,195.84 L269.32,198.30 L272.96,200.79 L276.61,203.31 L280.25,205.85 L283.89,208.43 L287.54,211.03 L291.18,213.66 L294.83,216.32 L298.47,219.01 L302.12,221.73 L305.76,224.47 L309.41,227.25 L313.05,230.05 L316.70,232.88 L320.34,235.74 L323.98,238.63 L327.63,241.55 L331.27,244.50 L334.92,247.48 L338.56,250.49 L342.21,253.53 L345.85,256.60 L349.50,259.69 L353.14,262.82 L356.79,265.98 L360.43,269.17 L364.07,272.39 L367.72,275.64 L371.36,278.93 L375.01,282.24 L378.65,285.59 L382.30,288.97 L385.94,292.38 L389.59,295.82 L393.23,299.29 L396.88,302.80 L400.52,306.34 L404.16,309.92 L407.81,313.53 L411.45,317.17 L415.10,320.85 L418.74,324.56 L422.39,328.30 L426.03,332.09 L429.68,335.90 L433.32,339.76 L436.97,343.65 L440.61,347.57 L444.25,351.54 L447.90,355.54 L451.54,359.58 L455.19,363.65 L458.83,367.77 L462.48,371.92 L466.12,376.12 L469.77,380.35 L473.41,384.63 L477.06,388.94 L480.70,393.30" stroke="#800080" stroke-width="2.7" fill="none"/>
<path d="M47.00,99.40 L50.64,99.96 L54.29,100.56 L57.93,101.20 L61.58,101.86 L65.22,102.57 L68.87,103.30 L72.51,104.07 L76.16,104.88 L79.80,105.71 L83.45,106.58 L87.09,107.49 L90.73,108.42 L94.38,109.40 L98.02,110.40 L101.67,111.44 L105.31,112.51 L108.96,113.61 L112.60,114.75 L116.25,115.92 L119.89,117.12 L123.54,118.36 L127.18,119.63 L130.82,120.93 L134.47,122.27 L138.11,123.64 L141.76,125.04 L145.40,126.47 L149.05,127.94 L152.69,129.44 L156.34,130.97 L159.98,132.53 L163.63,134.13 L167.27,135.76 L170.91,137.42 L174.56,139.12 L178.20,140.84 L181.85,142.60 L185.49,144.39 L189.14,146.22 L192.78,148.07 L196.43,149.96 L200.07,151.88 L203.72,153.83 L207.36,155.81 L211.00,157.83 L214.65,159.88 L218.29,161.96 L221.94,164.07 L225.58,166.21 L229.23,168.39 L232.87,170.59 L236.52,172.83 L240.16,175.10 L243.81,177.40 L247.45,179.74 L251.09,182.10 L254.74,184.50 L258.38,186.93 L262.03,189.39 L265.67,191.88 L269.32,194.40 L272.96,196.96 L276.61,199.54 L280.25,202.16 L283.89,204.81 L287.54,207.49 L291.18,210.20 L294.83,212.94 L298.47,215.71 L302.12,218.52 L305.76,221.35 L309.41,224.22 L313.05,227.12 L316.70,230.05 L320.34,233.01 L323.98,236.00 L327.63,239.02 L331.27,242.07 L334.92,245.16 L338.56,248.27 L342.21,251.42 L345.85,254.60 L349.50,257.80 L353.14,261.04 L356.79,264.31 L360.43,267.61 L364.07,270.94 L367.72,274.31 L371.36,277.70 L375.01,281.12 L378.65,284.58 L382.30,288.06 L385.94,291.58 L389.59,295.12 L393.23,298.70 L396.88,302.31 L400.52,305.95 L404.16,309.62 L407.81,313.32 L411.45,317.05 L415.10,320.81 L418.74,324.60 L422.39,328.42 L426.03,332.28 L429.68,336.16 L433.32,340.07 L436.97,344.02 L440.61,347.99 L444.25,352.00 L447.90,356.04 L451.54,360.10 L455.19,364.20 L458.83,368.33 L462.48,372.49 L466.12,376.68 L469.77,380.90 L473.41,385.15 L477.06,389.43 L480.70,393.74" stroke="#00ff00" stroke-width="2.7" fill="none"/>
<path d="M47.00,96.42 L50.64,96.95 L54.29,97.51 L57.93,98.10 L61.58,98.73 L65.22,99.39 L68.87,100.09 L72.51,100.82 L76.16,101.59 L79.80,102.39 L83.45,103.23 L87.09,104.10 L90.73,105.00 L94.38,105.94 L98.02,106.91 L101.67,107.92 L105.31,108.96 L108.96,110.04 L112.60,111.15 L116.25,112.30 L119.89,113.48 L123.54,114.69 L127.18,115.94 L130.82,117.23 L134.47,118.54 L138.11,119.90 L141.76,121.28 L145.40,122.71 L149.05,124.16 L152.69,125.65 L156.34,127.18 L159.98,128.74 L163.63,130.33 L167.27,131.96 L170.91,133.62 L174.56,135.32 L178.20,137.05 L181.85,138.81 L185.49,140.61 L189.14,142.44 L192.78,144.31 L196.43,146.21 L200.07,148.15 L203.72,150.12 L207.36,152.12 L211.00,154.16 L214.65,156.23 L218.29,158.33 L221.94,160.47 L225.58,162.64 L229.23,164.85 L232.87,167.08 L236.52,169.36 L240.16,171.66 L243.81,174.00 L247.45,176.37 L251.09,178.78 L254.74,181.22 L258.38,183.69 L262.03,186.20 L265.67,188.73 L269.32,191.31 L272.96,193.91 L276.61,196.55 L280.25,199.22 L283.89,201.92 L287.54,204.65 L291.18,207.42 L294.83,210.22 L298.47,213.05 L302.12,215.91 L305.76,218.81 L309.41,221.74 L313.05,224.70 L316.70,227.69 L320.34,230.71 L323.98,233.77 L327.63,236.85 L331.27,239.97 L334.92,243.12 L338.56,246.30 L342.21,249.51 L345.85,252.76 L349.50,256.03 L353.14,259.33 L356.79,262.67 L360.43,266.04 L364.07,269.43 L367.72,272.86 L371.36,276.32 L375.01,279.80 L378.65,283.32 L382.30,286.87 L385.94,290.44 L389.59,294.05 L393.23,297.69 L396.88,301.35 L400.52,305.05 L404.16,308.77 L407.81,312.52 L411.45,316.31 L415.10,320.12 L418.74,323.96 L422.39,327.82 L426.03,331.72 L429.68,335.64 L433.32,339.60 L436.97,343.58 L440.61,347.58 L444.25,351.62 L447.90,355.68 L451.54,359.77 L455.19,363.89 L458.83,368.03 L462.48,372.20 L466.12,376.40 L469.77,380.62 L473.41,384.88 L477.06,389.15 L480.70,393.45" stroke="#ff0000" stroke-width="2.7" fill="none"/>
<path d="M47.00,57.43 L52.35,57.46 L57.70,57.53 L63.05,57.65 L68.40,57.82 L73.75,58.04 L79.10,58.31 L84.45,58.64 L89.80,59.01 L95.15,59.43 L100.50,59.90 L105.85,60.42 L111.19,61.00 L116.54,61.62 L121.89,62.30 L127.24,63.03 L132.59,63.81 L137.94,64.64 L143.29,65.52 L148.64,66.45 L153.99,67.44 L159.34,68.47 L164.69,69.56 L170.04,70.70 L175.39,71.89 L180.74,73.13 L186.09,74.42 L191.44,75.76 L196.79,77.15 L202.14,78.60 L207.49,80.09 L212.84,81.63 L218.19,83.23 L223.54,84.87 L228.89,86.57 L234.24,88.31 L239.58,90.10 L244.93,91.94 L250.28,93.83 L255.63,95.77 L260.98,97.76 L266.33,99.80 L271.68,101.88 L277.03,104.02 L282.38,106.20 L287.73,108.42 L293.08,110.70 L298.43,113.02 L303.78,115.39 L309.13,117.80 L314.48,120.26 L319.83,122.77 L325.18,125.32 L330.53,127.91 L335.88,130.56 L341.23,133.24 L346.58,135.97 L351.93,138.75 L357.28,141.57 L362.63,144.43 L367.97,147.34 L373.32,150.29 L378.67,153.28 L384.02,156.32 L389.37,159.40 L394.72,162.52 L400.07,165.69 L405.42,168.89 L410.77,172.14 L416.12,175.43 L421.47,178.76 L426.82,182.14 L432.17,185.55 L437.52,189.01 L442.87,192.50 L448.22,196.04 L453.57,199.62 L458.92,203.24 L464.27,206.90 L469.62,210.60 L474.97,214.34 L480.32,218.12 L485.67,221.95 L491.02,225.81 L496.36,229.72 L501.71,233.66 L507.06,237.65 L512.41,241.67 L517.76,245.74 L523.11,249.85 L528.46,254.00 L533.81,258.19 L539.16,262.42 L544.51,266.70 L549.86,271.02 L555.21,275.37 L560.56,279.78 L565.91,284.22 L571.26,288.71 L576.61,293.24 L581.96,297.81 L587.31,302.43 L592.66,307.09 L598.01,311.80 L603.36,316.56 L608.71,321.36 L614.06,326.20 L619.41,331.10 L624.75,336.04 L630.10,341.03 L635.45,346.06 L640.80,351.15 L646.15,356.29 L651.50,361.48 L656.85,366.72 L662.20,372.01 L667.55,377.36 L672.90,382.76 L678.25,388.21 L683.60,393.72" stroke="#000" stroke-width="2.7" fill="none"/>
<path d="M47.00,57.75 L52.35,57.76 L57.70,57.76 L63.05,57.76 L68.40,57.74 L73.75,57.72 L79.10,57.68 L84.45,57.64 L89.80,57.59 L95.15,57.53 L100.50,57.46 L105.85,57.38 L111.19,57.30 L116.54,57.20 L121.89,57.10 L127.24,56.99 L132.59,56.88 L137.94,56.75 L143.29,56.62 L148.64,56.47 L153.99,56.32 L159.34,56.17 L164.69,56.00 L170.04,55.83 L175.39,55.65 L180.74,55.46 L186.09,55.26 L191.44,55.06 L196.79,54.85 L202.14,54.63 L207.49,54.41 L212.84,54.17 L218.19,53.93 L223.54,53.69 L228.89,53.43 L234.24,53.17 L239.58,52.90 L244.93,52.63 L250.28,52.34 L255.63,52.06 L260.98,51.76 L266.33,51.46 L271.68,51.15 L277.03,50.83 L282.38,50.51 L287.73,50.18 L293.08,49.84 L298.43,49.50 L303.78,49.15 L309.13,48.79 L314.48,48.43 L319.83,48.06 L325.18,47.69 L330.53,47.31 L335.88,46.92 L341.23,46.52 L346.58,46.12 L351.93,45.72 L357.28,45.30 L362.63,44.88 L367.97,44.46 L373.32,44.03 L378.67,43.59 L384.02,43.15 L389.37,42.70 L394.72,42.24 L400.07,41.78 L405.42,41.31 L410.77,40.84 L416.12,40.36 L421.47,39.87 L426.82,39.38 L432.17,38.88 L437.52,38.38 L442.87,37.87 L448.22,37.35 L453.57,36.83 L458.92,36.30 L464.27,35.77 L469.62,35.23 L474.97,34.68 L480.32,34.13 L485.67,33.58 L491.02,33.01 L496.36,32.45 L501.71,31.87 L507.06,31.29 L512.41,30.71 L517.76,30.11 L523.11,29.52 L528.46,28.91 L533.81,28.31 L539.16,27.69 L544.51,27.07 L549.86,26.44 L555.21,25.81 L560.56,25.17 L565.91,24.53 L571.26,23.88 L576.61,23.22 L581.96,22.56 L587.31,21.89 L592.66,21.22 L598.01,20.54 L603.36,19.86 L608.71,19.17 L614.06,18.47 L619.41,17.77 L624.75,17.06 L630.10,16.34 L635.45,15.62 L640.80,14.90 L646.15,14.16 L651.50,13.42 L656.85,12.68 L662.20,11.93 L667.55,11.17 L672.90,10.41 L678.25,9.64 L683.60,8.86" stroke="#000" stroke-width="2.8" fill="none" stroke-dasharray="10 8.395" stroke-dashoffset="1.3"/>
</g>
<g shape-rendering="auto">
<rect x="47.2" y="0.5" width="636.4" height="392.4" fill="none" stroke="#000" stroke-width="1.1"/>
<line x1="47.20" y1="375.52" x2="50.90" y2="375.52" stroke="#000" stroke-width="1.1"/>
<line x1="683.60" y1="375.52" x2="679.90" y2="375.52" stroke="#000" stroke-width="1.1"/>
<line x1="47.20" y1="358.04" x2="50.90" y2="358.04" stroke="#000" stroke-width="1.1"/>
<line x1="683.60" y1="358.04" x2="679.90" y2="358.04" stroke="#000" stroke-width="1.1"/>
<line x1="47.20" y1="340.56" x2="50.90" y2="340.56" stroke="#000" stroke-width="1.1"/>
<line x1="683.60" y1="340.56" x2="679.90" y2="340.56" stroke="#000" stroke-width="1.1"/>
<line x1="47.20" y1="323.08" x2="50.90" y2="323.08" stroke="#000" stroke-width="1.1"/>
<line x1="683.60" y1="323.08" x2="679.90" y2="323.08" stroke="#000" stroke-width="1.1"/>
<line x1="47.20" y1="305.60" x2="53.40" y2="305.60" stroke="#000" stroke-width="1.1"/>
<line x1="683.60" y1="305.60" x2="677.40" y2="305.60" stroke="#000" stroke-width="1.1"/>
<line x1="47.20" y1="288.12" x2="50.90" y2="288.12" stroke="#000" stroke-width="1.1"/>
<line x1="683.60" y1="288.12" x2="679.90" y2="288.12" stroke="#000" stroke-width="1.1"/>
<line x1="47.20" y1="270.64" x2="50.90" y2="270.64" stroke="#000" stroke-width="1.1"/>
<line x1="683.60" y1="270.64" x2="679.90" y2="270.64" stroke="#000" stroke-width="1.1"/>
<line x1="47.20" y1="253.16" x2="50.90" y2="253.16" stroke="#000" stroke-width="1.1"/>
<line x1="683.60" y1="253.16" x2="679.90" y2="253.16" stroke="#000" stroke-width="1.1"/>
<line x1="47.20" y1="235.68" x2="50.90" y2="235.68" stroke="#000" stroke-width="1.1"/>
<line x1="683.60" y1="235.68" x2="679.90" y2="235.68" stroke="#000" stroke-width="1.1"/>
<line x1="47.20" y1="218.20" x2="53.40" y2="218.20" stroke="#000" stroke-width="1.1"/>
<line x1="683.60" y1="218.20" x2="677.40" y2="218.20" stroke="#000" stroke-width="1.1"/>
<line x1="47.20" y1="200.72" x2="50.90" y2="200.72" stroke="#000" stroke-width="1.1"/>
<line x1="683.60" y1="200.72" x2="679.90" y2="200.72" stroke="#000" stroke-width="1.1"/>
<line x1="47.20" y1="183.24" x2="50.90" y2="183.24" stroke="#000" stroke-width="1.1"/>
<line x1="683.60" y1="183.24" x2="679.90" y2="183.24" stroke="#000" stroke-width="1.1"/>
<line x1="47.20" y1="165.76" x2="50.90" y2="165.76" stroke="#000" stroke-width="1.1"/>
<line x1="683.60" y1="165.76" x2="679.90" y2="165.76" stroke="#000" stroke-width="1.1"/>
<line x1="47.20" y1="148.28" x2="50.90" y2="148.28" stroke="#000" stroke-width="1.1"/>
<line x1="683.60" y1="148.28" x2="679.90" y2="148.28" stroke="#000" stroke-width="1.1"/>
<line x1="47.20" y1="130.80" x2="53.40" y2="130.80" stroke="#000" stroke-width="1.1"/>
<line x1="683.60" y1="130.80" x2="677.40" y2="130.80" stroke="#000" stroke-width="1.1"/>
<line x1="47.20" y1="113.32" x2="50.90" y2="113.32" stroke="#000" stroke-width="1.1"/>
<line x1="683.60" y1="113.32" x2="679.90" y2="113.32" stroke="#000" stroke-width="1.1"/>
<line x1="47.20" y1="95.84" x2="50.90" y2="95.84" stroke="#000" stroke-width="1.1"/>
<line x1="683.60" y1="95.84" x2="679.90" y2="95.84" stroke="#000" stroke-width="1.1"/>
<line x1="47.20" y1="78.36" x2="50.90" y2="78.36" stroke="#000" stroke-width="1.1"/>
<line x1="683.60" y1="78.36" x2="679.90" y2="78.36" stroke="#000" stroke-width="1.1"/>
<line x1="47.20" y1="60.88" x2="50.90" y2="60.88" stroke="#000" stroke-width="1.1"/>
<line x1="683.60" y1="60.88" x2="679.90" y2="60.88" stroke="#000" stroke-width="1.1"/>
<line x1="47.20" y1="43.40" x2="53.40" y2="43.40" stroke="#000" stroke-width="1.1"/>
<line x1="683.60" y1="43.40" x2="677.40" y2="43.40" stroke="#000" stroke-width="1.1"/>
<line x1="47.20" y1="25.92" x2="50.90" y2="25.92" stroke="#000" stroke-width="1.1"/>
<line x1="683.60" y1="25.92" x2="679.90" y2="25.92" stroke="#000" stroke-width="1.1"/>
<line x1="47.20" y1="8.44" x2="50.90" y2="8.44" stroke="#000" stroke-width="1.1"/>
<line x1="683.60" y1="8.44" x2="679.90" y2="8.44" stroke="#000" stroke-width="1.1"/>
<line x1="63.20" y1="392.90" x2="63.20" y2="389.40" stroke="#000" stroke-width="1.1"/>
<line x1="79.40" y1="392.90" x2="79.40" y2="389.40" stroke="#000" stroke-width="1.1"/>
<line x1="95.60" y1="392.90" x2="95.60" y2="389.40" stroke="#000" stroke-width="1.1"/>
<line x1="111.80" y1="392.90" x2="111.80" y2="389.40" stroke="#000" stroke-width="1.1"/>
<line x1="128.00" y1="392.90" x2="128.00" y2="386.90" stroke="#000" stroke-width="1.1"/>
<line x1="144.20" y1="392.90" x2="144.20" y2="389.40" stroke="#000" stroke-width="1.1"/>
<line x1="160.40" y1="392.90" x2="160.40" y2="389.40" stroke="#000" stroke-width="1.1"/>
<line x1="176.60" y1="392.90" x2="176.60" y2="389.40" stroke="#000" stroke-width="1.1"/>
<line x1="192.80" y1="392.90" x2="192.80" y2="389.40" stroke="#000" stroke-width="1.1"/>
<line x1="209.00" y1="392.90" x2="209.00" y2="386.90" stroke="#000" stroke-width="1.1"/>
<line x1="225.20" y1="392.90" x2="225.20" y2="389.40" stroke="#000" stroke-width="1.1"/>
<line x1="241.40" y1="392.90" x2="241.40" y2="389.40" stroke="#000" stroke-width="1.1"/>
<line x1="257.60" y1="392.90" x2="257.60" y2="389.40" stroke="#000" stroke-width="1.1"/>
<line x1="273.80" y1="392.90" x2="273.80" y2="389.40" stroke="#000" stroke-width="1.1"/>
<line x1="290.00" y1="392.90" x2="290.00" y2="386.90" stroke="#000" stroke-width="1.1"/>
<line x1="306.20" y1="392.90" x2="306.20" y2="389.40" stroke="#000" stroke-width="1.1"/>
<line x1="322.40" y1="392.90" x2="322.40" y2="389.40" stroke="#000" stroke-width="1.1"/>
<line x1="338.60" y1="392.90" x2="338.60" y2="389.40" stroke="#000" stroke-width="1.1"/>
<line x1="354.80" y1="392.90" x2="354.80" y2="389.40" stroke="#000" stroke-width="1.1"/>
<line x1="371.00" y1="392.90" x2="371.00" y2="386.90" stroke="#000" stroke-width="1.1"/>
<line x1="387.20" y1="392.90" x2="387.20" y2="389.40" stroke="#000" stroke-width="1.1"/>
<line x1="403.40" y1="392.90" x2="403.40" y2="389.40" stroke="#000" stroke-width="1.1"/>
<line x1="419.60" y1="392.90" x2="419.60" y2="389.40" stroke="#000" stroke-width="1.1"/>
<line x1="435.80" y1="392.90" x2="435.80" y2="389.40" stroke="#000" stroke-width="1.1"/>
<line x1="452.00" y1="392.90" x2="452.00" y2="386.90" stroke="#000" stroke-width="1.1"/>
<line x1="468.20" y1="392.90" x2="468.20" y2="389.40" stroke="#000" stroke-width="1.1"/>
<line x1="484.40" y1="392.90" x2="484.40" y2="389.40" stroke="#000" stroke-width="1.1"/>
<line x1="500.60" y1="392.90" x2="500.60" y2="389.40" stroke="#000" stroke-width="1.1"/>
<line x1="516.80" y1="392.90" x2="516.80" y2="389.40" stroke="#000" stroke-width="1.1"/>
<line x1="533.00" y1="392.90" x2="533.00" y2="386.90" stroke="#000" stroke-width="1.1"/>
<line x1="549.20" y1="392.90" x2="549.20" y2="389.40" stroke="#000" stroke-width="1.1"/>
<line x1="565.40" y1="392.90" x2="565.40" y2="389.40" stroke="#000" stroke-width="1.1"/>
<line x1="581.60" y1="392.90" x2="581.60" y2="389.40" stroke="#000" stroke-width="1.1"/>
<line x1="597.80" y1="392.90" x2="597.80" y2="389.40" stroke="#000" stroke-width="1.1"/>
<line x1="614.00" y1="392.90" x2="614.00" y2="386.90" stroke="#000" stroke-width="1.1"/>
<line x1="630.20" y1="392.90" x2="630.20" y2="389.40" stroke="#000" stroke-width="1.1"/>
<line x1="646.40" y1="392.90" x2="646.40" y2="389.40" stroke="#000" stroke-width="1.1"/>
<line x1="662.60" y1="392.90" x2="662.60" y2="389.40" stroke="#000" stroke-width="1.1"/>
<line x1="678.80" y1="392.90" x2="678.80" y2="389.40" stroke="#000" stroke-width="1.1"/>
<line x1="87.50" y1="0.50" x2="87.50" y2="3.00" stroke="#000" stroke-width="1.1"/>
<line x1="128.00" y1="0.50" x2="128.00" y2="3.00" stroke="#000" stroke-width="1.1"/>
<line x1="168.50" y1="0.50" x2="168.50" y2="3.00" stroke="#000" stroke-width="1.1"/>
<line x1="209.00" y1="0.50" x2="209.00" y2="5.50" stroke="#000" stroke-width="1.1"/>
<line x1="249.50" y1="0.50" x2="249.50" y2="3.00" stroke="#000" stroke-width="1.1"/>
<line x1="290.00" y1="0.50" x2="290.00" y2="3.00" stroke="#000" stroke-width="1.1"/>
<line x1="330.50" y1="0.50" x2="330.50" y2="3.00" stroke="#000" stroke-width="1.1"/>
<line x1="371.00" y1="0.50" x2="371.00" y2="5.50" stroke="#000" stroke-width="1.1"/>
<line x1="411.50" y1="0.50" x2="411.50" y2="3.00" stroke="#000" stroke-width="1.1"/>
<line x1="452.00" y1="0.50" x2="452.00" y2="3.00" stroke="#000" stroke-width="1.1"/>
<line x1="492.50" y1="0.50" x2="492.50" y2="3.00" stroke="#000" stroke-width="1.1"/>
<line x1="533.00" y1="0.50" x2="533.00" y2="5.50" stroke="#000" stroke-width="1.1"/>
<line x1="573.50" y1="0.50" x2="573.50" y2="3.00" stroke="#000" stroke-width="1.1"/>
<line x1="614.00" y1="0.50" x2="614.00" y2="3.00" stroke="#000" stroke-width="1.1"/>
<line x1="654.50" y1="0.50" x2="654.50" y2="3.00" stroke="#000" stroke-width="1.1"/>
<polyline points="47.2,90.9 481.7,90.9 481.7,393.8 47.2,393.8" fill="none" stroke="#000" stroke-width="1.5"/>
<line x1="52.10" y1="393.80" x2="52.10" y2="389.40" stroke="#000" stroke-width="1.0"/>
<line x1="64.62" y1="393.80" x2="64.62" y2="391.60" stroke="#000" stroke-width="1.0"/>
<line x1="77.14" y1="393.80" x2="77.14" y2="391.60" stroke="#000" stroke-width="1.0"/>
<line x1="89.66" y1="393.80" x2="89.66" y2="391.60" stroke="#000" stroke-width="1.0"/>
<line x1="102.18" y1="393.80" x2="102.18" y2="391.60" stroke="#000" stroke-width="1.0"/>
<line x1="114.70" y1="393.80" x2="114.70" y2="389.40" stroke="#000" stroke-width="1.0"/>
<line x1="127.22" y1="393.80" x2="127.22" y2="391.60" stroke="#000" stroke-width="1.0"/>
<line x1="139.74" y1="393.80" x2="139.74" y2="391.60" stroke="#000" stroke-width="1.0"/>
<line x1="152.26" y1="393.80" x2="152.26" y2="391.60" stroke="#000" stroke-width="1.0"/>
<line x1="164.78" y1="393.80" x2="164.78" y2="391.60" stroke="#000" stroke-width="1.0"/>
<line x1="177.30" y1="393.80" x2="177.30" y2="389.40" stroke="#000" stroke-width="1.0"/>
<line x1="189.82" y1="393.80" x2="189.82" y2="391.60" stroke="#000" stroke-width="1.0"/>
<line x1="202.34" y1="393.80" x2="202.34" y2="391.60" stroke="#000" stroke-width="1.0"/>
<line x1="214.86" y1="393.80" x2="214.86" y2="391.60" stroke="#000" stroke-width="1.0"/>
<line x1="227.38" y1="393.80" x2="227.38" y2="391.60" stroke="#000" stroke-width="1.0"/>
<line x1="239.90" y1="393.80" x2="239.90" y2="389.40" stroke="#000" stroke-width="1.0"/>
<line x1="252.42" y1="393.80" x2="252.42" y2="391.60" stroke="#000" stroke-width="1.0"/>
<line x1="264.94" y1="393.80" x2="264.94" y2="391.60" stroke="#000" stroke-width="1.0"/>
<line x1="277.46" y1="393.80" x2="277.46" y2="391.60" stroke="#000" stroke-width="1.0"/>
<line x1="289.98" y1="393.80" x2="289.98" y2="391.60" stroke="#000" stroke-width="1.0"/>
<line x1="302.50" y1="393.80" x2="302.50" y2="389.40" stroke="#000" stroke-width="1.0"/>
<line x1="315.02" y1="393.80" x2="315.02" y2="391.60" stroke="#000" stroke-width="1.0"/>
<line x1="327.54" y1="393.80" x2="327.54" y2="391.60" stroke="#000" stroke-width="1.0"/>
<line x1="340.06" y1="393.80" x2="340.06" y2="391.60" stroke="#000" stroke-width="1.0"/>
<line x1="352.58" y1="393.80" x2="352.58" y2="391.60" stroke="#000" stroke-width="1.0"/>
<line x1="365.10" y1="393.80" x2="365.10" y2="389.40" stroke="#000" stroke-width="1.0"/>
<line x1="377.62" y1="393.80" x2="377.62" y2="391.60" stroke="#000" stroke-width="1.0"/>
<line x1="390.14" y1="393.80" x2="390.14" y2="391.60" stroke="#000" stroke-width="1.0"/>
<line x1="402.66" y1="393.80" x2="402.66" y2="391.60" stroke="#000" stroke-width="1.0"/>
<line x1="415.18" y1="393.80" x2="415.18" y2="391.60" stroke="#000" stroke-width="1.0"/>
<line x1="427.70" y1="393.80" x2="427.70" y2="389.40" stroke="#000" stroke-width="1.0"/>
<line x1="440.22" y1="393.80" x2="440.22" y2="391.60" stroke="#000" stroke-width="1.0"/>
<line x1="452.74" y1="393.80" x2="452.74" y2="391.60" stroke="#000" stroke-width="1.0"/>
<line x1="465.26" y1="393.80" x2="465.26" y2="391.60" stroke="#000" stroke-width="1.0"/>
<line x1="477.78" y1="393.80" x2="477.78" y2="391.60" stroke="#000" stroke-width="1.0"/>
<line x1="52.10" y1="90.90" x2="52.10" y2="93.90" stroke="#000" stroke-width="1.0"/>
<line x1="83.40" y1="90.90" x2="83.40" y2="93.10" stroke="#000" stroke-width="1.0"/>
<line x1="114.70" y1="90.90" x2="114.70" y2="93.90" stroke="#000" stroke-width="1.0"/>
<line x1="146.00" y1="90.90" x2="146.00" y2="93.10" stroke="#000" stroke-width="1.0"/>
<line x1="177.30" y1="90.90" x2="177.30" y2="93.90" stroke="#000" stroke-width="1.0"/>
<line x1="208.60" y1="90.90" x2="208.60" y2="93.10" stroke="#000" stroke-width="1.0"/>
<line x1="239.90" y1="90.90" x2="239.90" y2="93.90" stroke="#000" stroke-width="1.0"/>
<line x1="271.20" y1="90.90" x2="271.20" y2="93.10" stroke="#000" stroke-width="1.0"/>
<line x1="302.50" y1="90.90" x2="302.50" y2="93.90" stroke="#000" stroke-width="1.0"/>
<line x1="333.80" y1="90.90" x2="333.80" y2="93.10" stroke="#000" stroke-width="1.0"/>
<line x1="365.10" y1="90.90" x2="365.10" y2="93.90" stroke="#000" stroke-width="1.0"/>
<line x1="396.40" y1="90.90" x2="396.40" y2="93.10" stroke="#000" stroke-width="1.0"/>
<line x1="427.70" y1="90.90" x2="427.70" y2="93.90" stroke="#000" stroke-width="1.0"/>
<line x1="459.00" y1="90.90" x2="459.00" y2="93.10" stroke="#000" stroke-width="1.0"/>
<line x1="481.70" y1="381.40" x2="478.90" y2="381.40" stroke="#000" stroke-width="1.0"/>
<line x1="481.70" y1="369.00" x2="478.90" y2="369.00" stroke="#000" stroke-width="1.0"/>
<line x1="481.70" y1="356.60" x2="478.90" y2="356.60" stroke="#000" stroke-width="1.0"/>
<line x1="481.70" y1="344.20" x2="478.90" y2="344.20" stroke="#000" stroke-width="1.0"/>
<line x1="481.70" y1="331.80" x2="476.70" y2="331.80" stroke="#000" stroke-width="1.0"/>
<line x1="481.70" y1="319.40" x2="478.90" y2="319.40" stroke="#000" stroke-width="1.0"/>
<line x1="481.70" y1="307.00" x2="478.90" y2="307.00" stroke="#000" stroke-width="1.0"/>
<line x1="481.70" y1="294.60" x2="478.90" y2="294.60" stroke="#000" stroke-width="1.0"/>
<line x1="481.70" y1="282.20" x2="478.90" y2="282.20" stroke="#000" stroke-width="1.0"/>
<line x1="481.70" y1="269.80" x2="476.70" y2="269.80" stroke="#000" stroke-width="1.0"/>
<line x1="481.70" y1="257.40" x2="478.90" y2="257.40" stroke="#000" stroke-width="1.0"/>
<line x1="481.70" y1="245.00" x2="478.90" y2="245.00" stroke="#000" stroke-width="1.0"/>
<line x1="481.70" y1="232.60" x2="478.90" y2="232.60" stroke="#000" stroke-width="1.0"/>
<line x1="481.70" y1="220.20" x2="478.90" y2="220.20" stroke="#000" stroke-width="1.0"/>
<line x1="481.70" y1="207.80" x2="476.70" y2="207.80" stroke="#000" stroke-width="1.0"/>
<line x1="481.70" y1="195.40" x2="478.90" y2="195.40" stroke="#000" stroke-width="1.0"/>
<line x1="481.70" y1="183.00" x2="478.90" y2="183.00" stroke="#000" stroke-width="1.0"/>
<line x1="481.70" y1="170.60" x2="478.90" y2="170.60" stroke="#000" stroke-width="1.0"/>
<line x1="481.70" y1="158.20" x2="478.90" y2="158.20" stroke="#000" stroke-width="1.0"/>
<line x1="481.70" y1="145.80" x2="476.70" y2="145.80" stroke="#000" stroke-width="1.0"/>
<line x1="481.70" y1="133.40" x2="478.90" y2="133.40" stroke="#000" stroke-width="1.0"/>
<line x1="481.70" y1="121.00" x2="478.90" y2="121.00" stroke="#000" stroke-width="1.0"/>
<line x1="481.70" y1="108.60" x2="478.90" y2="108.60" stroke="#000" stroke-width="1.0"/>
<line x1="481.70" y1="96.20" x2="478.90" y2="96.20" stroke="#000" stroke-width="1.0"/>
</g>
<g class="t" font-size="18.4">
<text x="37.2" y="51" text-anchor="middle">4</text>
<text x="37.2" y="138.4" text-anchor="middle">3</text>
<text x="37.2" y="225.9" text-anchor="middle">2</text>
<text x="37.2" y="313.3" text-anchor="middle">1</text>
<text x="37.2" y="400.7" text-anchor="middle">0</text>
<text x="47" y="416.9" text-anchor="middle">0</text>
<text x="128" y="416.9" text-anchor="middle">1</text>
<text x="209" y="416.9" text-anchor="middle">2</text>
<text x="290" y="416.9" text-anchor="middle">3</text>
<text x="371" y="416.9" text-anchor="middle">4</text>
<text x="452" y="416.9" text-anchor="middle">5</text>
<text x="533" y="416.9" text-anchor="middle">6</text>
<text x="614" y="416.9" text-anchor="middle">7</text>
<text x="366" y="451.1" text-anchor="middle">r ( km )</text>
<text transform="translate(16.9,250.7) rotate(-90)">P</text>
<text transform="translate(16.9,227.7) rotate(-90)">MeV</text>
<text transform="translate(16.9,186.0) rotate(-90)">/</text>
<text transform="translate(16.9,173.3) rotate(-90)">fm</text>
<text transform="translate(9.7,150.5) rotate(-90)" font-size="12.6">3</text>
</g>
<g class="t" font-size="18.4" word-spacing="-1.5">
<text x="546" y="71">GR</text>
<rect x="578.5" y="65.5" width="9.3" height="2.2" fill="#000"/>
<rect x="589.3" y="65.5" width="9.6" height="2.2" fill="#000"/>
<text x="605.2" y="71">Black</text>
<text transform="translate(531.6,119.8) scale(1.13,1)" font-style="italic">&#945;</text>
<rect x="549.2" y="112" width="9.5" height="2" fill="#000"/>
<rect x="549.2" y="116.4" width="9.5" height="2" fill="#000"/>
<text x="564.5" y="119.7" letter-spacing="-0.2">10 (Brown),</text>
<text x="531.4" y="149.4">20 (Blue),</text>
<text x="531.4" y="178.4">30 (Purple),</text>
<text x="531.4" y="208.1">40 (Green)</text>
<text x="531.4" y="236.6">50 (Red)</text>
<text x="62.7" y="328.9" font-style="italic">p</text>
<text x="74.2" y="332.8" font-style="italic" font-size="13.3">r</text>
<rect x="82.3" y="324" width="9.1" height="2" fill="#000"/>
<rect x="92.8" y="324" width="9.2" height="2" fill="#000"/>
<text x="107" y="328.9">Solid</text>
<text x="62.7" y="357.9" font-style="italic">p</text>
<text x="74.6" y="361.8" font-style="italic" font-size="13.3">t</text>
<rect x="82.3" y="353" width="9.1" height="2" fill="#000"/>
<rect x="92.8" y="353" width="9.2" height="2" fill="#000"/>
<text x="107" y="357.9">Dashed</text>
</g>
</svg>
</body></html>
